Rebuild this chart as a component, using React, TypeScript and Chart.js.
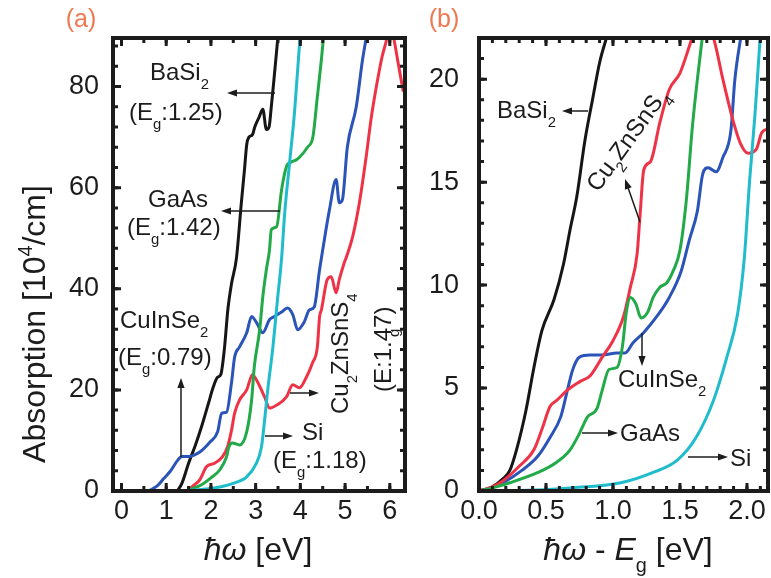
import { useEffect, useRef } from 'react';
import { Chart, registerables } from 'chart.js';

Chart.register(...registerables);

const FONT = '"Liberation Sans", Arial, Helvetica, sans-serif';
const INK = '#1c1c1c';

const C_BLACK = '#161616';
const C_RED = '#ef3346';
const C_GREEN = '#22aa48';
const C_BLUE = '#2b54b8';
const C_CYAN = '#1fbccc';

// ---- panel (a): absorption vs photon energy [eV] ----
const A_BASI2_X = [1.25, 1.35, 1.5, 1.65, 1.8, 1.95, 2.05, 2.15, 2.22, 2.3, 2.38, 2.46, 2.57, 2.68, 2.75, 2.8, 2.85, 2.93, 2.98, 3.08, 3.16, 3.24, 3.3, 3.35, 3.4, 3.5];
const A_BASI2_Y = [0, 1.5, 5.5, 9, 13, 17.5, 20.5, 22.5, 23, 28, 36, 41, 46, 57, 63.5, 68.5, 70, 70.5, 72, 74, 75.5, 71.5, 72, 76, 80.5, 90];

const A_CIS_X = [0.6, 0.8, 0.95, 1.1, 1.25, 1.35, 1.5, 1.75, 1.98, 2.15, 2.24, 2.35, 2.46, 2.53, 2.64, 2.8, 2.91, 3.02, 3.16, 3.31, 3.42, 3.58, 3.71, 3.83, 3.94, 4.09, 4.2, 4.31, 4.43, 4.5, 4.65, 4.8, 4.87, 4.94, 5.05, 5.25, 5.39, 5.48];
const A_CIS_Y = [0, 1, 2.5, 4, 6, 6.8, 6.8, 7.7, 9.7, 11.7, 15.4, 15.6, 21.4, 26.5, 28.5, 31.3, 34.5, 33.3, 31.3, 33.9, 34.5, 35.4, 36.2, 34.9, 31.9, 33.5, 35.8, 36.4, 43.8, 47.7, 55.6, 61.6, 57, 57.6, 68, 76, 85.3, 90];

const A_CZTS_X = [1.45, 1.6, 1.75, 1.9, 2.08, 2.26, 2.37, 2.46, 2.53, 2.64, 2.8, 2.93, 3.04, 3.2, 3.31, 3.47, 3.69, 3.83, 3.98, 4.14, 4.27, 4.38, 4.43, 4.47, 4.6, 4.69, 4.8, 4.87, 4.98, 5.03, 5.17, 5.32, 5.47, 5.58, 5.7, 5.83, 5.92, 6.0, 6.08, 6.18, 6.3];
const A_CZTS_Y = [0, 1, 2.2, 4.8, 5.5, 6.8, 8.7, 12, 15.4, 18, 20, 23, 21.6, 18.6, 16.4, 17, 18.6, 21, 20.4, 22.6, 25.3, 28.5, 34.5, 35.8, 41.8, 42.4, 39.2, 41.8, 45.1, 46.3, 50.3, 57, 66, 73.5, 80, 86, 89, 93, 90, 85, 79];

const A_GAAS_X = [1.42, 1.6, 1.8, 2.0, 2.2, 2.35, 2.4, 2.48, 2.64, 2.8, 2.91, 2.97, 3.09, 3.16, 3.24, 3.31, 3.35, 3.47, 3.58, 3.69, 3.8, 3.91, 3.98, 4.16, 4.28, 4.38, 4.47, 4.52];
const A_GAAS_Y = [0, 0.5, 1.3, 2.6, 4.2, 6.8, 8.7, 9.5, 9.1, 11.7, 18, 24.6, 31.9, 38.4, 43.8, 47.7, 51.7, 52.3, 59.6, 64.2, 65.1, 65.5, 66, 68, 70, 78, 85.3, 90];

const A_SI_X = [1.15, 1.5, 1.9, 2.2, 2.5, 2.8, 3.0, 3.13, 3.2, 3.27, 3.38, 3.49, 3.58, 3.65, 3.76, 3.87, 3.99];
const A_SI_Y = [0, 0.1, 0.4, 0.8, 1.5, 2.8, 5.2, 8.7, 14, 20, 28, 38, 46, 55, 65, 75, 89.5];

// ---- panel (b): absorption vs energy above the gap [eV] ----
const B_BASI2_X = [0, 0.1, 0.18, 0.23, 0.28, 0.35, 0.41, 0.47, 0.56, 0.63, 0.68, 0.73, 0.79, 0.85, 0.9, 0.96];
const B_BASI2_Y = [0, 0.2, 0.6, 1.0, 2.0, 3.9, 6.0, 7.8, 9.3, 11.0, 12.7, 14.3, 17, 19.1, 20.8, 22.2];

const B_CZTS_X = [0, 0.1, 0.18, 0.3, 0.41, 0.47, 0.53, 0.58, 0.66, 0.75, 0.83, 0.92, 1.0, 1.08, 1.13, 1.18, 1.2, 1.23, 1.28, 1.35, 1.42, 1.5, 1.57, 1.62, 1.67, 1.75, 1.82, 1.9, 1.95, 2.01, 2.07, 2.11, 2.16];
const B_CZTS_Y = [0, 0.2, 0.5, 1.2, 2.0, 3.0, 4.1, 4.4, 4.9, 5.3, 5.6, 6.5, 7.3, 8.5, 9.9, 11.5, 13.2, 15.6, 16, 17.9, 19.5, 20.3, 21.6, 22.6, 22.8, 22, 20, 17.9, 16.9, 16.4, 16.6, 17.4, 17.6];

const B_GAAS_X = [0, 0.1, 0.23, 0.44, 0.58, 0.68, 0.75, 0.81, 0.88, 0.92, 0.97, 1.03, 1.07, 1.1, 1.13, 1.17, 1.21, 1.26, 1.3, 1.35, 1.4, 1.45, 1.5, 1.55, 1.59, 1.63, 1.67];
const B_GAAS_Y = [0, 0.15, 0.4, 0.9, 1.4, 2.0, 2.8, 3.6, 4.0, 4.9, 5.9, 6.0, 7.0, 8.7, 9.4, 9.1, 8.4, 8.7, 9.4, 9.9, 10.1, 10.7, 11.7, 14.3, 17.5, 20, 22.2];

const B_CIS_X = [0, 0.1, 0.18, 0.32, 0.44, 0.53, 0.61, 0.66, 0.7, 0.75, 0.83, 0.92, 1.03, 1.09, 1.15, 1.23, 1.33, 1.42, 1.51, 1.57, 1.63, 1.67, 1.71, 1.77, 1.82, 1.88, 1.91, 1.96];
const B_CIS_Y = [0, 0.15, 0.4, 1.0, 1.7, 2.6, 3.6, 4.9, 5.9, 6.5, 6.6, 6.6, 6.7, 6.7, 7.2, 7.7, 8.5, 9.4, 10.7, 12.2, 13.6, 15.4, 15.7, 15.5, 16.2, 17.5, 20, 22.3];

const B_SI_X = [0, 0.3, 0.68, 1.06, 1.3, 1.48, 1.62, 1.75, 1.85, 1.93, 1.98, 2.02, 2.06, 2.1];
const B_SI_Y = [0, 0.02, 0.15, 0.4, 0.9, 1.5, 2.6, 4.4, 6.5, 8.6, 11.3, 15.1, 18.3, 22.2];

type Seg = { t: string; sub?: boolean; sup?: boolean; italic?: boolean };

const pts = (xs: number[], ys: number[]) => xs.map((x, i) => ({ x, y: ys[i] }));

function line(label: string, xs: number[], ys: number[], color: string) {
  return {
    label,
    data: pts(xs, ys),
    borderColor: color,
    borderWidth: 3,
    pointRadius: 0,
    fill: false,
    cubicInterpolationMode: 'monotone' as const,
    borderJoinStyle: 'round' as const,
  };
}

function richWidth(ctx: CanvasRenderingContext2D, segs: Seg[], size: number) {
  let w = 0;
  for (const s of segs) {
    const fs = s.sub || s.sup ? size * 0.62 : size;
    ctx.font = `${s.italic ? 'italic ' : ''}${fs}px ${FONT}`;
    w += ctx.measureText(s.t).width;
  }
  return w;
}

function drawRich(ctx: CanvasRenderingContext2D, segs: Seg[], x: number, y: number, size: number, align: 'left' | 'center' = 'left') {
  ctx.textBaseline = 'alphabetic';
  ctx.textAlign = 'left';
  let cx = align === 'center' ? x - richWidth(ctx, segs, size) / 2 : x;
  for (const s of segs) {
    const fs = s.sub || s.sup ? size * 0.62 : size;
    ctx.font = `${s.italic ? 'italic ' : ''}${fs}px ${FONT}`;
    const dy = s.sub ? size * 0.36 : s.sup ? -size * 0.4 : 0;
    ctx.fillText(s.t, cx, y + dy);
    cx += ctx.measureText(s.t).width;
  }
}

function drawRotated(ctx: CanvasRenderingContext2D, segs: Seg[], x: number, y: number, size: number, angle: number, align: 'left' | 'center' = 'left') {
  ctx.save();
  ctx.translate(x, y);
  ctx.rotate(angle);
  drawRich(ctx, segs, 0, 0, size, align);
  ctx.restore();
}

function arrow(ctx: CanvasRenderingContext2D, x1: number, y1: number, x2: number, y2: number) {
  const a = Math.atan2(y2 - y1, x2 - x1);
  const hl = 10;
  const hw = 3.6;
  ctx.save();
  ctx.strokeStyle = INK;
  ctx.fillStyle = INK;
  ctx.lineWidth = 1.5;
  ctx.beginPath();
  ctx.moveTo(x1, y1);
  ctx.lineTo(x2 - hl * Math.cos(a) * 0.8, y2 - hl * Math.sin(a) * 0.8);
  ctx.stroke();
  ctx.beginPath();
  ctx.moveTo(x2, y2);
  ctx.lineTo(x2 - hl * Math.cos(a) + hw * Math.sin(a), y2 - hl * Math.sin(a) - hw * Math.cos(a));
  ctx.lineTo(x2 - hl * Math.cos(a) - hw * Math.sin(a), y2 - hl * Math.sin(a) + hw * Math.cos(a));
  ctx.closePath();
  ctx.fill();
  ctx.restore();
}

const keepMultiples = (step: number) => (scale: any) => {
  scale.ticks = scale.ticks.filter((t: any) => Math.abs(t.value / step - Math.round(t.value / step)) < 1e-6);
};

// thick box with inward ticks on all four sides
function framePlugin(xMinor: number, yMinor: number) {
  return {
    id: 'boxFrame',
    afterDatasetsDraw(chart: any) {
      const { ctx, chartArea: a, scales } = chart;
      const xs = scales.x;
      const ys = scales.y;
      ctx.save();
      ctx.strokeStyle = INK;
      ctx.lineWidth = 3;
      const tickX = (v: number, len: number) => {
        const p = xs.getPixelForValue(v);
        ctx.beginPath();
        ctx.moveTo(p, a.bottom);
        ctx.lineTo(p, a.bottom - len);
        ctx.moveTo(p, a.top);
        ctx.lineTo(p, a.top + len);
        ctx.stroke();
      };
      const tickY = (v: number, len: number) => {
        const p = ys.getPixelForValue(v);
        ctx.beginPath();
        ctx.moveTo(a.left, p);
        ctx.lineTo(a.left + len, p);
        ctx.moveTo(a.right, p);
        ctx.lineTo(a.right - len, p);
        ctx.stroke();
      };
      for (let v = Math.ceil(xs.min / xMinor) * xMinor; v <= xs.max + 1e-9; v += xMinor) tickX(v, 5);
      for (let v = Math.ceil(ys.min / yMinor) * yMinor; v <= ys.max + 1e-9; v += yMinor) tickY(v, 5);
      xs.ticks.forEach((t: any) => tickX(t.value, 8));
      ys.ticks.forEach((t: any) => tickY(t.value, 8));
      ctx.lineWidth = 4;
      ctx.strokeRect(a.left, a.top, a.right - a.left, a.bottom - a.top);
      ctx.restore();
    },
  };
}

const TICK_FONT = { family: FONT, size: 27 };
const ANN = 24;

function baseOptions(xMin: number, xMax: number, xStep: number, yMax: number, yStep: number, yWidth: number, yPad: number, rightPad: number, fmt: (v: number) => string) {
  return {
    responsive: false,
    animation: false as const,
    devicePixelRatio: 1,
    layout: { padding: { top: 38, right: rightPad, left: 0, bottom: 0 } },
    plugins: { legend: { display: false }, tooltip: { enabled: false } },
    scales: {
      x: {
        type: 'linear' as const,
        min: xMin,
        max: xMax,
        afterBuildTicks: keepMultiples(xStep),
        afterFit: (s: any) => { s.height = 87; },
        grid: { display: false, drawTicks: false },
        border: { display: false },
        ticks: { stepSize: xStep, includeBounds: false, font: TICK_FONT, color: INK, padding: 4, maxRotation: 0, autoSkip: false, callback: (v: any) => fmt(Number(v)) },
      },
      y: {
        type: 'linear' as const,
        min: 0,
        max: yMax,
        afterBuildTicks: keepMultiples(yStep),
        afterFit: (s: any) => { s.width = yWidth; },
        grid: { display: false, drawTicks: false },
        border: { display: false },
        ticks: { stepSize: yStep, includeBounds: false, font: TICK_FONT, color: INK, padding: yPad, autoSkip: false },
      },
    },
  };
}

const annotA = {
  id: 'annotA',
  afterDraw(chart: any) {
    const ctx: CanvasRenderingContext2D = chart.ctx;
    ctx.save();
    ctx.fillStyle = INK;
    drawRich(ctx, [{ t: 'BaSi' }, { t: '2', sub: true }], 150, 80, ANN);
    drawRich(ctx, [{ t: '(E' }, { t: 'g', sub: true }, { t: ':1.25)' }], 129, 120, ANN);
    arrow(ctx, 275, 93, 227, 93);
    drawRich(ctx, [{ t: 'GaAs' }], 148, 207, ANN);
    drawRich(ctx, [{ t: '(E' }, { t: 'g', sub: true }, { t: ':1.42)' }], 127, 235, ANN);
    arrow(ctx, 280, 211, 221, 211);
    drawRich(ctx, [{ t: 'CuInSe' }, { t: '2', sub: true }], 120, 328, ANN);
    drawRich(ctx, [{ t: '(E' }, { t: 'g', sub: true }, { t: ':0.79)' }], 118, 365, ANN);
    arrow(ctx, 181, 457, 181, 378);
    drawRich(ctx, [{ t: 'Si' }], 302, 440, ANN);
    arrow(ctx, 265, 436, 293, 436);
    drawRich(ctx, [{ t: '(E' }, { t: 'g', sub: true }, { t: ':1.18)' }], 273, 468, ANN);
    drawRotated(ctx, [{ t: 'Cu' }, { t: '2', sub: true }, { t: 'ZnSnS' }, { t: '4', sub: true }], 348, 414, ANN, -Math.PI / 2);
    arrow(ctx, 290, 393, 319, 393);
    drawRotated(ctx, [{ t: '(E:1.47)' }], 391, 392, ANN, -Math.PI / 2);
    drawRotated(ctx, [{ t: 'g' }], 399, 337, ANN * 0.62, -Math.PI / 2);
    // axis titles and panel tag
    drawRotated(ctx, [{ t: 'Absorption [10' }, { t: '4', sup: true }, { t: '/cm]' }], 45, 324, 32, -Math.PI / 2, 'center');
    drawRich(ctx, [{ t: 'ħω', italic: true }, { t: ' [eV]' }], 258, 560, 32, 'center');
    ctx.fillStyle = '#f07850';
    drawRich(ctx, [{ t: '(a)' }], 81, 27, 25, 'center');
    ctx.restore();
  },
};

const OFF_B = 415;
const annotB = {
  id: 'annotB',
  afterDraw(chart: any) {
    const ctx: CanvasRenderingContext2D = chart.ctx;
    const o = OFF_B;
    ctx.save();
    ctx.fillStyle = INK;
    drawRich(ctx, [{ t: 'BaSi' }, { t: '2', sub: true }], 497 - o, 118, ANN);
    arrow(ctx, 588 - o, 111, 562 - o, 111);
    drawRotated(ctx, [{ t: 'Cu' }, { t: '2', sub: true }, { t: 'ZnSnS' }, { t: '4', sub: true }], 598 - o, 193, ANN, (-54 * Math.PI) / 180);
    arrow(ctx, 640 - o, 222, 625 - o, 179);
    drawRich(ctx, [{ t: 'CuInSe' }, { t: '2', sub: true }], 618 - o, 387, ANN);
    arrow(ctx, 642 - o, 333, 642 - o, 366);
    drawRich(ctx, [{ t: 'GaAs' }], 620 - o, 441, ANN);
    arrow(ctx, 582 - o, 433, 618 - o, 433);
    drawRich(ctx, [{ t: 'Si' }], 730 - o, 466, ANN);
    arrow(ctx, 688 - o, 457, 728 - o, 457);
    drawRich(ctx, [{ t: 'ħω', italic: true }, { t: ' - ' }, { t: 'E', italic: true }, { t: 'g', sub: true }, { t: ' [eV]' }], 628 - o, 560, 32, 'center');
    ctx.fillStyle = '#f07850';
    drawRich(ctx, [{ t: '(b)' }], 444 - o, 27, 25, 'center');
    ctx.restore();
  },
};

export default function App() {
  const refA = useRef<HTMLCanvasElement>(null);
  const refB = useRef<HTMLCanvasElement>(null);

  useEffect(() => {
    const chartA = new Chart(refA.current as HTMLCanvasElement, {
      type: 'line',
      data: {
        datasets: [
          line('Si', A_SI_X, A_SI_Y, C_CYAN),
          line('GaAs', A_GAAS_X, A_GAAS_Y, C_GREEN),
          line('Cu2ZnSnS4', A_CZTS_X, A_CZTS_Y, C_RED),
          line('CuInSe2', A_CIS_X, A_CIS_Y, C_BLUE),
          line('BaSi2', A_BASI2_X, A_BASI2_Y, C_BLACK),
        ],
      },
      options: baseOptions(-0.19, 6.34, 1, 89.6, 20, 113, 14, 10, (v) => String(v)) as any,
      plugins: [framePlugin(0.5, 4), annotA],
    });
    const chartB = new Chart(refB.current as HTMLCanvasElement, {
      type: 'line',
      data: {
        datasets: [
          line('Si', B_SI_X, B_SI_Y, C_CYAN),
          line('GaAs', B_GAAS_X, B_GAAS_Y, C_GREEN),
          line('Cu2ZnSnS4', B_CZTS_X, B_CZTS_Y, C_RED),
          line('CuInSe2', B_CIS_X, B_CIS_Y, C_BLUE),
          line('BaSi2', B_BASI2_X, B_BASI2_Y, C_BLACK),
        ],
      },
      options: baseOptions(0, 2.157, 0.5, 22, 5, 64, 20, 3, (v) => v.toFixed(1)) as any,
      plugins: [framePlugin(0.1, 1), annotB],
    });
    return () => {
      chartA.destroy();
      chartB.destroy();
    };
  }, []);

  return (
    <div style={{ position: 'fixed', left: 0, top: 0, width: 771, height: 578, background: '#fff', overflow: 'hidden' }}>
      <canvas ref={refA} width={415} height={578} style={{ position: 'absolute', left: 0, top: 0, width: 415, height: 578 }} />
      <canvas ref={refB} width={356} height={578} style={{ position: 'absolute', left: OFF_B, top: 0, width: 356, height: 578 }} />
    </div>
  );
}
